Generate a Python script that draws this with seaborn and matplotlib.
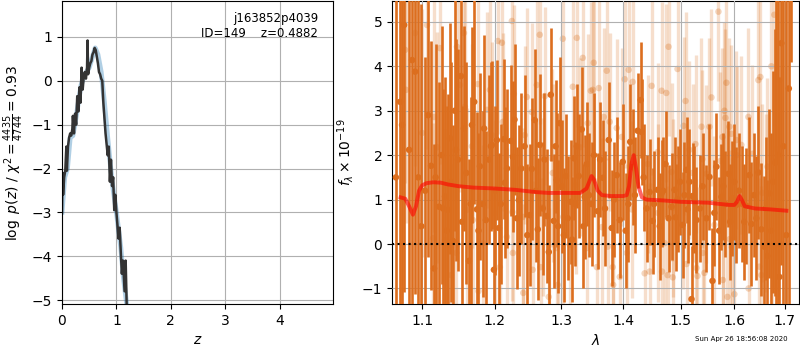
import numpy as np
import pandas as pd
import matplotlib
matplotlib.use("Agg")
import matplotlib.pyplot as plt
import matplotlib.ticker as mticker
import seaborn as sns

# ---------------- data: p(z) panel ----------------
z_fine = [0.00, 0.01, 0.02, 0.04, 0.06, 0.08, 0.09, 0.11, 0.13, 0.15, 0.17, 0.19,
          0.20, 0.22, 0.24, 0.26, 0.28, 0.30, 0.32, 0.34, 0.36, 0.38, 0.40, 0.42,
          0.44, 0.46, 0.47, 0.48, 0.50, 0.52, 0.54, 0.56, 0.58, 0.60, 0.62, 0.64,
          0.66, 0.68, 0.70, 0.72, 0.74, 0.76, 0.80, 0.84, 0.86, 0.88, 0.90, 0.92,
          0.94, 0.96, 0.98, 1.00, 1.02, 1.04, 1.06, 1.08, 1.10, 1.12, 1.15, 1.17, 1.19]
logp_fine = [-3.0, -2.1, -2.6, -2.2, -2.05, -1.5, -2.05, -1.5, -1.3, -1.2, -1.25, -1.1,
             -0.8, -1.2, -0.75, -1.0, -0.35, -0.7, -0.15, -0.5, 0.3, -0.2, 0.1, 0.2,
             0.05, 0.3, 0.92, 0.15, 0.3, 0.4, 0.45, 0.6, 0.65, 0.75, 0.7, 0.55,
             0.4, 0.2, 0.15, 0.05, 0.0, -0.5, -1.2, -1.7, -1.5, -2.3, -1.8, -2.4,
             -2.2, -2.95, -2.6, -3.0, -3.3, -3.6, -3.35, -3.9, -4.4, -4.1, -4.8, -4.1, -5.2]
z_smooth = [0.00, 0.05, 0.10, 0.15, 0.20, 0.25, 0.30, 0.35, 0.42, 0.50, 0.56, 0.61,
            0.66, 0.72, 0.78, 0.84, 0.92, 1.00, 1.08, 1.13, 1.20]
logp_smooth = [-3.0, -2.2, -2.0, -1.3, -1.25, -0.9, -0.5, -0.1, 0.15, 0.3, 0.55, 0.75,
               0.6, 0.2, -0.5, -1.3, -2.3, -3.0, -3.8, -4.5, -5.2]

# ---------------- data: spectrum panel ----------------
wave_dark = [1.066, 1.0714, 1.0739, 1.0765, 1.0830, 1.0869, 1.0908, 1.0950, 1.1040, 1.1119,
             1.1159, 1.1226, 1.1280, 1.1307, 1.1347, 1.1375, 1.1415, 1.1456, 1.1484, 1.1525,
             1.1566, 1.1636, 1.1678, 1.1748, 1.1790, 1.1832, 1.1875, 1.1918, 1.1947, 1.1961,
             1.1990, 1.2033, 1.2062, 1.2134, 1.2149, 1.2236, 1.2266, 1.2324, 1.2354, 1.2517,
             1.2547, 1.2593, 1.2638, 1.2668, 1.2714, 1.2775, 1.2806, 1.2837, 1.2883, 1.2929,
             1.2976, 1.3070, 1.3101, 1.3149, 1.3196, 1.3244, 1.3275, 1.3323, 1.3371, 1.3403,
             1.3581, 1.3663, 1.3761, 1.3811, 1.3894, 1.3944, 1.3994, 1.4044, 1.4162, 1.4247,
             1.4299, 1.4316, 1.4401, 1.4453, 1.4505, 1.4592, 1.4662, 1.4732, 1.4785, 1.4838,
             1.4892, 1.4945, 1.5035, 1.5107, 1.5125, 1.5198, 1.5216, 1.5289, 1.5473, 1.5529,
             1.5585, 1.5659, 1.5754, 1.5829, 1.5886, 1.5962, 1.6039, 1.6155, 1.6232, 1.6291,
             1.6330, 1.6428, 1.6467, 1.6527, 1.6586, 1.6646, 1.6686, 1.6806, 1.6826, 1.6887,
             1.6927, 1.7029, 1.7130,
             1.099, 1.108, 1.118, 1.126, 1.133, 1.139, 1.144, 1.154, 1.160, 1.166,
             1.171, 1.177, 1.185, 1.201, 1.209, 1.218, 1.229, 1.239, 1.244, 1.248,
             1.261, 1.274, 1.291, 1.295, 1.301, 1.304, 1.317, 1.322, 1.335, 1.344,
             1.348, 1.352, 1.362, 1.370, 1.385, 1.409, 1.412, 1.420, 1.435, 1.453,
             1.463, 1.469, 1.491, 1.499, 1.507, 1.516, 1.525, 1.535, 1.540, 1.562,
             1.571, 1.579, 1.592, 1.600, 1.609, 1.619, 1.638, 1.661, 1.672, 1.676,
             1.686, 1.697, 1.708]
flux_dark = [1.5, 3.2, 2.68, 4.93, 2.12, 4.14, 3.88, 1.5, 1.20, 1.76,
             -0.55, 0.84, 0.80, 1.07, 0.77, 2.38, 0.07, 2.12, 1.90, 3.78,
             2.60, -0.38, 2.68, 0.78, 1.75, 0.90, 0.54, 1.90, 2.20, 2.23,
             -0.58, 2.34, 0.36, 2.36, 1.38, 2.32, 1.96, 0.58, 0.99, 0.65,
             1.69, 2.79, 0.33, 2.23, 0.80, 0.63, -0.18, 3.36, 0.52, 1.44,
             2.72, 1.53, 0.58, 0.95, 1.93, 2.20, 1.53, 2.58, 1.06, 1.80,
             0.74, 1.49, 2.34, 0.36, 1.55, 0.54, 1.85, 0.30, 1.73, 2.55,
             3.24, 2.52, 0.80, 1.17, 0.52, 1.22, 1.14, 1.80, 0.58, 0.84,
             1.22, 1.01, 0.43, 1.67, 0.78, -1.24, 1.08, 0.54, 0.58, 1.51,
             -0.83, 1.74, 1.06, 0.90, 1.58, 1.03, 0.88, 0.90, 0.86, 1.55,
             0.45, 0.58, 1.61, 0.33, -0.06, -0.27, 1.14, 1.83, 1.86, -0.74,
             4.52, 0.20, 6.8,
             0.4, 2.9, 1.5, 2.0, 0.3, 1.4, 3.0, 0.5, 1.6, 0.9,
             3.2, 0.3, 2.6, 1.2, 0.9, 1.7, 2.8, 1.7, 2.2, 0.2,
             1.2, 1.9, 2.2, 0.4, 1.3, 0.2, 0.1, 0.9, 0.4, 1.1,
             0.9, 2.0, 1.9, 0.8, 1.0, 0.9, 2.3, 1.1, 1.5, 0.9,
             0.4, 1.2, 0.6, 1.4, 1.1, 1.4, 1.0, 0.8, 1.3, 0.7,
             0.3, 1.3, 0.5, 1.4, 1.2, 0.5, 1.1, 0.8, 0.3, 1.4,
             2.0, 2.2, 3.5]
err_dark = [6.0, 6.0, 6.0, 6.0, 5.0, 5.5, 5.0, 5.0, 3.0, 2.8,
            2.8, 2.8, 2.7, 2.7, 2.6, 2.6, 2.6, 2.5, 2.5, 2.5,
            2.3, 2.3, 2.2, 2.2, 2.1, 2.1, 2.0, 1.9, 1.9, 1.9,
            1.8, 1.8, 1.7, 1.8, 1.7, 1.7, 1.7, 1.6, 1.7, 1.6,
            1.6, 1.6, 1.6, 1.6, 1.5, 1.5, 1.5, 1.5, 1.5, 1.5,
            1.5, 1.4, 1.4, 1.4, 1.4, 1.4, 1.4, 1.4, 1.4, 1.4,
            1.3, 1.3, 1.3, 1.3, 1.3, 1.3, 1.3, 1.3, 1.3, 1.3,
            1.3, 1.2, 1.2, 1.2, 1.2, 1.2, 1.2, 1.2, 1.2, 1.2,
            1.2, 1.2, 1.2, 1.2, 1.2, 1.2, 1.2, 1.2, 1.2, 1.2,
            1.2, 1.2, 1.2, 1.2, 1.2, 1.3, 1.3, 1.3, 1.3, 1.3,
            1.4, 1.4, 1.5, 1.5, 1.6, 1.7, 1.9, 3.0, 4.0, 4.5,
            5.0, 6.0, 2.7,
            5.0, 3.2, 3.0, 2.9, 2.8, 2.7, 2.7, 2.6, 2.5, 2.4,
            2.3, 2.2, 2.1, 1.9, 1.8, 1.8, 1.7, 1.7, 1.6, 1.6,
            1.6, 1.5, 1.5, 1.5, 1.5, 1.5, 1.4, 1.4, 1.4, 1.4,
            1.4, 1.4, 1.3, 1.3, 1.3, 1.3, 1.3, 1.3, 1.2, 1.2,
            1.2, 1.2, 1.2, 1.2, 1.2, 1.2, 1.2, 1.2, 1.2, 1.2,
            1.2, 1.2, 1.3, 1.3, 1.3, 1.3, 1.4, 1.6, 2.2, 2.5,
            5.0, 5.5, 6.0]

wave_light = [1.0778, 1.0791, 1.0908, 1.1000, 1.1066, 1.1146, 1.1159, 1.1199, 1.1239, 1.1307,
              1.1388, 1.1460, 1.1470, 1.1511, 1.1566, 1.1580, 1.1608, 1.1678, 1.1690, 1.1762,
              1.1770, 1.1832, 1.1890, 1.1932, 1.1961, 1.2004, 1.2047, 1.2076, 1.2105, 1.2120,
              1.2178, 1.2251, 1.2260, 1.2266, 1.2280, 1.2413, 1.2420, 1.2443, 1.2473, 1.2547,
              1.2562, 1.2623, 1.2668, 1.2680, 1.2714, 1.2744, 1.2806, 1.2852, 1.2867, 1.2929,
              1.2945, 1.3023, 1.3030, 1.3133, 1.3180, 1.3228, 1.3244, 1.3291, 1.3339, 1.3403,
              1.3419, 1.3468, 1.3500, 1.3516, 1.3565, 1.3597, 1.3646, 1.3679, 1.3728, 1.3745,
              1.3778, 1.3827, 1.3835, 1.3894, 1.3944, 1.3977, 1.4027, 1.4061, 1.4095, 1.4145,
              1.4162, 1.4367, 1.4418, 1.4453, 1.4488, 1.4592, 1.4600, 1.4662, 1.4670, 1.4715,
              1.4745, 1.4768, 1.4785, 1.4838, 1.4856, 1.4860, 1.4945, 1.5035, 1.5053, 1.5089,
              1.5107, 1.5161, 1.5216, 1.5271, 1.5289, 1.5307, 1.5381, 1.5399, 1.5405, 1.5436,
              1.5473, 1.5529, 1.5566, 1.5622, 1.5697, 1.5735, 1.5773, 1.5780, 1.5785, 1.5810,
              1.5829, 1.5848, 1.5867, 1.5905, 1.5910, 1.5943, 1.5950, 1.6000, 1.6039, 1.6045,
              1.6135, 1.6271, 1.6275, 1.6349, 1.6467, 1.6487, 1.6507, 1.6527, 1.6546, 1.6626,
              1.6646, 1.6726, 1.6746, 1.6786, 1.6826, 1.6887, 1.7029]
flux_light = [4.37, 3.47, 4.75, 2.50, 4.93, 0.13, 2.86, 2.18, 4.41, 0.09,
              -0.70, -0.20, 4.44, 3.58, 4.75, 3.09, 0.77, 2.20, 0.54, 3.60,
              -1.06, 0.02, 3.02, 3.47, 2.45, 0.70, 4.57, -0.52, 4.53, 2.75,
              0.16, 5.02, 0.72, -0.20, 3.38, 0.61, -1.10, 2.45, 3.31, 2.97,
              -0.58, 3.58, 4.71, -0.52, 0.83, 3.33, -1.19, 1.93, 1.60, -0.09,
              -0.92, 4.62, 0.61, -0.02, 3.54, 1.33, 4.64, 2.18, 4.19, -0.09,
              2.72, 3.45, 3.47, 4.08, -0.52, 3.51, 0.38, 2.86, 3.90, -0.06,
              2.75, -0.52, -0.92, 2.61, -0.74, 2.41, 3.71, -0.20, 3.92, 0.78,
              3.65, -0.66, 1.80, -0.62, 3.56, 2.07, 0.70, 3.45, -0.62, 0.02,
              3.40, -0.70, 4.44, 1.62, 0.81, -0.75, 3.94, 0.99, 2.66, 3.22,
              -0.45, 2.12, 1.60, 2.25, -0.54, -0.72, 2.64, 1.91, -0.20, -0.65,
              1.58, 2.64, 3.30, 0.43, 5.23, 1.87, 2.41, -0.81, 0.02, 3.00,
              2.84, 3.63, -1.19, 2.64, 0.11, 2.48, -0.07, -1.13, 2.34, 2.00,
              2.23, 2.86, -1.00, 2.03, 3.69, -0.51, 3.76, -0.70, 1.15, 0.92,
              1.74, 4.00, -0.06, 5.16, 2.14, 3.69, 0.09]
err_light = [3.0, 3.0, 3.0, 2.8, 2.8, 2.6, 2.6, 2.6, 2.6, 2.5,
             2.5, 2.4, 2.4, 2.4, 2.4, 2.4, 2.3, 2.3, 2.3, 2.3,
             2.2, 2.2, 2.2, 2.1, 2.1, 2.1, 2.1, 2.1, 2.1, 2.0,
             2.0, 2.0, 2.0, 2.0, 2.0, 2.0, 2.0, 2.0, 2.0, 2.0,
             2.0, 2.0, 2.0, 2.0, 2.0, 2.0, 2.0, 2.0, 2.0, 2.0,
             2.0, 2.0, 2.0, 2.0, 2.0, 2.0, 2.0, 2.0, 2.0, 2.0,
             2.0, 2.0, 2.0, 2.0, 2.0, 2.0, 2.0, 2.0, 2.0, 2.0,
             2.0, 2.0, 2.0, 2.0, 2.0, 2.0, 2.0, 2.0, 2.0, 2.0,
             2.0, 2.0, 2.0, 2.0, 2.0, 2.0, 2.0, 2.0, 2.0, 2.0,
             2.0, 2.0, 2.0, 2.0, 2.0, 2.0, 2.0, 2.0, 2.0, 2.0,
             2.0, 2.0, 2.0, 2.0, 2.0, 2.0, 2.0, 2.0, 2.0, 2.0,
             2.0, 2.0, 2.0, 2.0, 2.0, 2.0, 2.0, 2.0, 2.0, 2.0,
             2.0, 2.0, 2.0, 2.0, 2.0, 2.0, 2.0, 2.0, 2.0, 2.0,
             2.0, 2.0, 2.0, 2.0, 2.0, 2.0, 2.0, 2.0, 2.0, 2.0,
             2.0, 2.2, 2.2, 2.5, 2.5, 3.0, 3.5]

wave_model = [1.072, 1.078, 1.083, 1.088, 1.092, 1.096, 1.100, 1.106, 1.115, 1.125,
              1.135, 1.150, 1.170, 1.200, 1.230, 1.260, 1.280, 1.310, 1.330, 1.340,
              1.348, 1.352, 1.358, 1.365, 1.380, 1.400, 1.406, 1.410, 1.414, 1.418,
              1.422, 1.426, 1.432, 1.440, 1.470, 1.500, 1.550, 1.590, 1.600, 1.605,
              1.610, 1.615, 1.620, 1.640, 1.670, 1.703]
flux_model = [1.05, 1.02, 0.85, 0.66, 0.85, 1.20, 1.32, 1.37, 1.39, 1.38,
              1.34, 1.30, 1.27, 1.25, 1.22, 1.17, 1.15, 1.15, 1.15, 1.25,
              1.53, 1.45, 1.20, 1.10, 1.08, 1.08, 1.10, 1.30, 1.80, 2.00,
              1.70, 1.30, 1.05, 1.00, 0.98, 0.95, 0.93, 0.88, 0.88, 0.95,
              1.08, 0.98, 0.85, 0.80, 0.78, 0.75]

wave_ticks = [1.1, 1.2, 1.3, 1.4, 1.5, 1.6, 1.7]
title_text = "j163852p4039\nID=149    z=0.4882"
stamp_text = "Sun Apr 26 18:56:08 2020"

# ---------------- figure ----------------
fig = plt.figure(figsize=(8, 3.5), dpi=100)
ax1 = fig.add_axes([62/800, 1 - 304/350, (333-62)/800, 303/350])
ax2 = fig.add_axes([392/800, 1 - 304/350, (799-392)/800, 303/350])

# --- left: p(z)
sns.lineplot(x=z_smooth, y=logp_smooth, ax=ax1, color="#1f77b4", alpha=0.35,
             linewidth=3.5, sort=False, estimator=None)
sns.lineplot(x=z_fine, y=logp_fine, ax=ax1, color="0.2", linewidth=1.8,
             sort=False, estimator=None)
ax1.set_xlim(0, 4.98)
ax1.set_ylim(-5.09, 1.82)
ax1.set_yticks([-5, -4, -3, -2, -1, 0, 1])
ax1.set_xticks([0, 1, 2, 3, 4])
ax1.grid(True, color="#b0b0b0", linewidth=0.8)
ax1.set_axisbelow(True)
ax1.set_xlabel(r"$z$")
ax1.set_ylabel(r"$\log\ p(z)$ / $\chi^2=\frac{4435}{4744}=0.93$")
ax1.text(0.945, 0.965, title_text, transform=ax1.transAxes, ha="right", va="top",
         fontsize=8.5, multialignment="right")

# --- right: spectrum
col = (0.8352941176470589, 0.3686274509803922, 0.0)
dark_col = "#dc6e1e"
ax2.set_xscale("log")
ax2.errorbar(wave_light, flux_light, yerr=err_light, fmt="none", ecolor=col,
             elinewidth=2.4, alpha=0.2, zorder=2)
sns.scatterplot(x=wave_light, y=flux_light, ax=ax2, color=col, alpha=0.25, s=22,
                edgecolor="none", zorder=2)
ax2.errorbar(wave_dark, flux_dark, yerr=err_dark, fmt="none", ecolor=dark_col,
             elinewidth=1.9, alpha=1.0, zorder=3)
sns.scatterplot(x=wave_dark, y=flux_dark, ax=ax2, color=dark_col, alpha=1.0, s=22,
                edgecolor="none", zorder=3)
ax2.axhline(0, color="k", linestyle=":", linewidth=1.5, zorder=4)
sns.lineplot(x=wave_model, y=flux_model, ax=ax2, color="red", alpha=0.6,
             linewidth=2.8, sort=False, estimator=None, zorder=5)
ax2.set_xlim(1.061, 1.729)
ax2.set_ylim(-1.35, 5.47)
ax2.xaxis.set_major_locator(mticker.FixedLocator(wave_ticks))
ax2.xaxis.set_minor_locator(mticker.NullLocator())
ax2.xaxis.set_major_formatter(mticker.FixedFormatter([f"{w:.1f}" for w in wave_ticks]))
ax2.set_yticks([-1, 0, 1, 2, 3, 4, 5])
ax2.grid(True, color="#b0b0b0", linewidth=0.8, zorder=0)
ax2.set_axisbelow(False)
ax2.set_xlabel(r"$\lambda$")
ax2.set_ylabel(r"$f_\lambda\times10^{-19}$")

fig.text(0.985, 0.022, stamp_text, ha="right", va="bottom", fontsize=5)

fig.savefig("out.png", dpi=100)
